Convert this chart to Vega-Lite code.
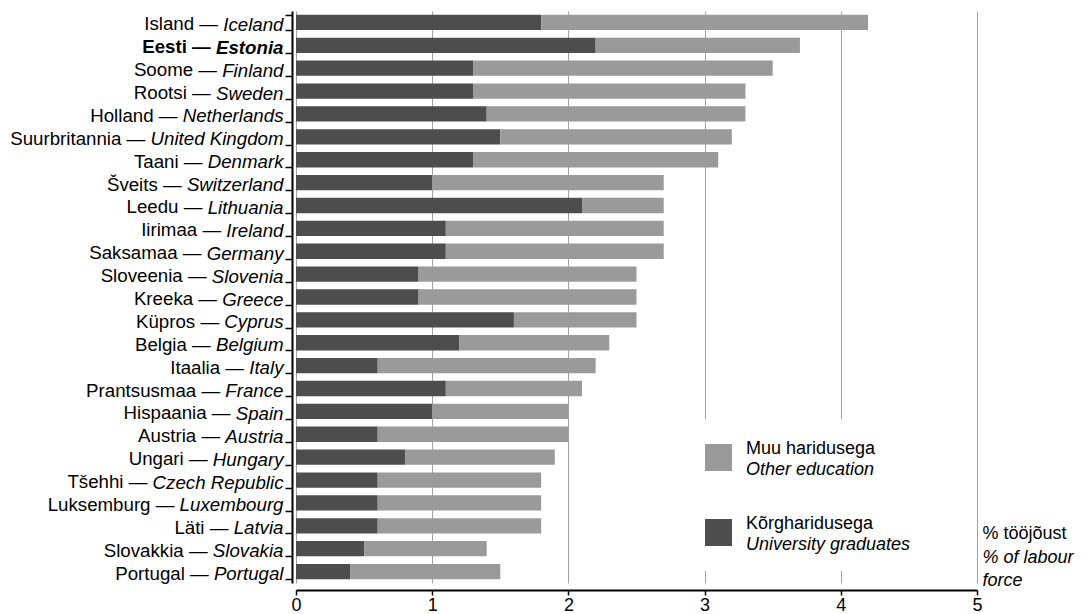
{
  "$schema": "https://vega.github.io/schema/vega-lite/v6.json",
  "width": 681,
  "height": 572,
  "autosize": {"type": "none"},
  "padding": {"left": 296, "top": 11, "right": 106, "bottom": 31},
  "background": "white",
  "config": {
    "view": {"stroke": null},
    "font": "Liberation Sans",
    "axis": {"labelFont": "Liberation Sans", "titleFont": "Liberation Sans", "labelColor": "black", "titleColor": "black"},
    "legend": {"labelFont": "Liberation Sans", "labelColor": "black"}
  },
  "data": {
    "values": [
      {"label": "Island — Iceland", "edu": "Kõrgharidusega", "edu_en": "University graduates", "value": 1.8},
      {"label": "Island — Iceland", "edu": "Muu haridusega", "edu_en": "Other education", "value": 2.4},
      {"label": "Eesti — Estonia", "edu": "Kõrgharidusega", "edu_en": "University graduates", "value": 2.2},
      {"label": "Eesti — Estonia", "edu": "Muu haridusega", "edu_en": "Other education", "value": 1.5},
      {"label": "Soome — Finland", "edu": "Kõrgharidusega", "edu_en": "University graduates", "value": 1.3},
      {"label": "Soome — Finland", "edu": "Muu haridusega", "edu_en": "Other education", "value": 2.2},
      {"label": "Rootsi — Sweden", "edu": "Kõrgharidusega", "edu_en": "University graduates", "value": 1.3},
      {"label": "Rootsi — Sweden", "edu": "Muu haridusega", "edu_en": "Other education", "value": 2.0},
      {"label": "Holland — Netherlands", "edu": "Kõrgharidusega", "edu_en": "University graduates", "value": 1.4},
      {"label": "Holland — Netherlands", "edu": "Muu haridusega", "edu_en": "Other education", "value": 1.9},
      {"label": "Suurbritannia — United Kingdom", "edu": "Kõrgharidusega", "edu_en": "University graduates", "value": 1.5},
      {"label": "Suurbritannia — United Kingdom", "edu": "Muu haridusega", "edu_en": "Other education", "value": 1.7},
      {"label": "Taani — Denmark", "edu": "Kõrgharidusega", "edu_en": "University graduates", "value": 1.3},
      {"label": "Taani — Denmark", "edu": "Muu haridusega", "edu_en": "Other education", "value": 1.8},
      {"label": "Šveits — Switzerland", "edu": "Kõrgharidusega", "edu_en": "University graduates", "value": 1.0},
      {"label": "Šveits — Switzerland", "edu": "Muu haridusega", "edu_en": "Other education", "value": 1.7},
      {"label": "Leedu — Lithuania", "edu": "Kõrgharidusega", "edu_en": "University graduates", "value": 2.1},
      {"label": "Leedu — Lithuania", "edu": "Muu haridusega", "edu_en": "Other education", "value": 0.6},
      {"label": "Iirimaa — Ireland", "edu": "Kõrgharidusega", "edu_en": "University graduates", "value": 1.1},
      {"label": "Iirimaa — Ireland", "edu": "Muu haridusega", "edu_en": "Other education", "value": 1.6},
      {"label": "Saksamaa — Germany", "edu": "Kõrgharidusega", "edu_en": "University graduates", "value": 1.1},
      {"label": "Saksamaa — Germany", "edu": "Muu haridusega", "edu_en": "Other education", "value": 1.6},
      {"label": "Sloveenia — Slovenia", "edu": "Kõrgharidusega", "edu_en": "University graduates", "value": 0.9},
      {"label": "Sloveenia — Slovenia", "edu": "Muu haridusega", "edu_en": "Other education", "value": 1.6},
      {"label": "Kreeka — Greece", "edu": "Kõrgharidusega", "edu_en": "University graduates", "value": 0.9},
      {"label": "Kreeka — Greece", "edu": "Muu haridusega", "edu_en": "Other education", "value": 1.6},
      {"label": "Küpros — Cyprus", "edu": "Kõrgharidusega", "edu_en": "University graduates", "value": 1.6},
      {"label": "Küpros — Cyprus", "edu": "Muu haridusega", "edu_en": "Other education", "value": 0.9},
      {"label": "Belgia — Belgium", "edu": "Kõrgharidusega", "edu_en": "University graduates", "value": 1.2},
      {"label": "Belgia — Belgium", "edu": "Muu haridusega", "edu_en": "Other education", "value": 1.1},
      {"label": "Itaalia — Italy", "edu": "Kõrgharidusega", "edu_en": "University graduates", "value": 0.6},
      {"label": "Itaalia — Italy", "edu": "Muu haridusega", "edu_en": "Other education", "value": 1.6},
      {"label": "Prantsusmaa — France", "edu": "Kõrgharidusega", "edu_en": "University graduates", "value": 1.1},
      {"label": "Prantsusmaa — France", "edu": "Muu haridusega", "edu_en": "Other education", "value": 1.0},
      {"label": "Hispaania — Spain", "edu": "Kõrgharidusega", "edu_en": "University graduates", "value": 1.0},
      {"label": "Hispaania — Spain", "edu": "Muu haridusega", "edu_en": "Other education", "value": 1.0},
      {"label": "Austria — Austria", "edu": "Kõrgharidusega", "edu_en": "University graduates", "value": 0.6},
      {"label": "Austria — Austria", "edu": "Muu haridusega", "edu_en": "Other education", "value": 1.4},
      {"label": "Ungari — Hungary", "edu": "Kõrgharidusega", "edu_en": "University graduates", "value": 0.8},
      {"label": "Ungari — Hungary", "edu": "Muu haridusega", "edu_en": "Other education", "value": 1.1},
      {"label": "Tšehhi — Czech Republic", "edu": "Kõrgharidusega", "edu_en": "University graduates", "value": 0.6},
      {"label": "Tšehhi — Czech Republic", "edu": "Muu haridusega", "edu_en": "Other education", "value": 1.2},
      {"label": "Luksemburg — Luxembourg", "edu": "Kõrgharidusega", "edu_en": "University graduates", "value": 0.6},
      {"label": "Luksemburg — Luxembourg", "edu": "Muu haridusega", "edu_en": "Other education", "value": 1.2},
      {"label": "Läti — Latvia", "edu": "Kõrgharidusega", "edu_en": "University graduates", "value": 0.6},
      {"label": "Läti — Latvia", "edu": "Muu haridusega", "edu_en": "Other education", "value": 1.2},
      {"label": "Slovakkia — Slovakia", "edu": "Kõrgharidusega", "edu_en": "University graduates", "value": 0.5},
      {"label": "Slovakkia — Slovakia", "edu": "Muu haridusega", "edu_en": "Other education", "value": 0.9},
      {"label": "Portugal — Portugal", "edu": "Kõrgharidusega", "edu_en": "University graduates", "value": 0.4},
      {"label": "Portugal — Portugal", "edu": "Muu haridusega", "edu_en": "Other education", "value": 1.1}
    ]
  },
  "layer": [
    {
      "mark": {"type": "bar"},
      "encoding": {
        "y": {
          "field": "label", "type": "nominal", "sort": null,
          "scale": {"paddingInner": 0.33, "paddingOuter": 0.165},
          "axis": {
            "orient": "left", "offset": 4, "title": null, "grid": false,
            "domain": true, "domainColor": "black", "domainWidth": 2,
            "ticks": true, "tickColor": "black", "tickSize": 7, "tickWidth": 1.5, "tickBand": "extent",
            "labelExpr": "split(datum.value, ' — ')[1]",
            "labelFontStyle": "italic", "labelFontSize": 18.7, "labelPadding": 2, "labelOffset": 2,
            "labelLimit": 0, "labelOverlap": false,
            "labelFontWeight": {"condition": {"test": "datum.value == 'Eesti — Estonia'", "value": "bold"}, "value": "normal"}
          }
        },
        "x": {
          "field": "value", "type": "quantitative", "stack": "zero",
          "scale": {"domain": [0, 5], "nice": false},
          "axis": {
            "orient": "bottom", "offset": 7, "values": [0, 1, 2, 3, 4, 5], "format": "d",
            "labelFlush": false, "labelFontSize": 18, "labelPadding": 1,
            "domain": true, "domainColor": "black", "domainWidth": 2,
            "ticks": true, "tickColor": "black", "tickSize": 5, "tickWidth": 1.5,
            "grid": true, "gridColor": "#a3a3a3", "gridWidth": 1,
            "title": "% tööjõust", "titleX": 686, "titleY": -52, "titleAlign": "left", "titleAnchor": "start",
            "titleBaseline": "alphabetic", "titleFontSize": 18, "titleFontWeight": "normal"
          }
        },
        "color": {
          "field": "edu", "type": "nominal",
          "scale": {"domain": ["Muu haridusega", "Kõrgharidusega"], "range": ["#9a9a9a", "#4d4d4d"]},
          "legend": {
            "orient": "none", "legendX": 384, "legendY": 408, "title": null,
            "symbolType": "square", "symbolSize": 729, "symbolStrokeWidth": 0, "symbolOpacity": 1,
            "labelFontSize": 18, "labelBaseline": "bottom", "labelOffset": 14, "labelLimit": 0,
            "rowPadding": 43, "padding": 25, "fillColor": "white"
          }
        },
        "order": {"field": "edu_en", "sort": "descending"}
      }
    },
    {
      "mark": {"type": "point", "opacity": 0},
      "encoding": {
        "y": {
          "field": "label", "type": "nominal", "sort": null,
          "axis": {
            "orient": "left", "offset": 4, "title": null, "grid": false, "domain": false,
            "ticks": true, "tickOpacity": 0, "tickSize": 7,
            "labelExpr": "split(datum.value, ' — ')[0] + ' —'",
            "labelFontSize": 18.7, "labelOffset": 2, "labelLimit": 0, "labelOverlap": false,
            "labelFontWeight": {"condition": {"test": "datum.value == 'Eesti — Estonia'", "value": "bold"}, "value": "normal"},
            "labelPadding": {
              "condition": [
                {"test": "datum.value == 'Island — Iceland'", "value": 67.5},
                {"test": "datum.value == 'Eesti — Estonia'", "value": 74.7},
                {"test": "datum.value == 'Soome — Finland'", "value": 68.5},
                {"test": "datum.value == 'Rootsi — Sweden'", "value": 74.8},
                {"test": "datum.value == 'Holland — Netherlands'", "value": 108},
                {"test": "datum.value == 'Suurbritannia — United Kingdom'", "value": 140.2},
                {"test": "datum.value == 'Taani — Denmark'", "value": 83},
                {"test": "datum.value == 'Šveits — Switzerland'", "value": 103.8},
                {"test": "datum.value == 'Leedu — Lithuania'", "value": 83.1},
                {"test": "datum.value == 'Iirimaa — Ireland'", "value": 64.4},
                {"test": "datum.value == 'Saksamaa — Germany'", "value": 84.1},
                {"test": "datum.value == 'Sloveenia — Slovenia'", "value": 78.9},
                {"test": "datum.value == 'Kreeka — Greece'", "value": 68.5},
                {"test": "datum.value == 'Küpros — Cyprus'", "value": 66.4},
                {"test": "datum.value == 'Belgia — Belgium'", "value": 74.7},
                {"test": "datum.value == 'Itaalia — Italy'", "value": 41.5},
                {"test": "datum.value == 'Prantsusmaa — France'", "value": 65.4},
                {"test": "datum.value == 'Hispaania — Spain'", "value": 55},
                {"test": "datum.value == 'Austria — Austria'", "value": 65.4},
                {"test": "datum.value == 'Ungari — Hungary'", "value": 77.9},
                {"test": "datum.value == 'Tšehhi — Czech Republic'", "value": 138.1},
                {"test": "datum.value == 'Luksemburg — Luxembourg'", "value": 111.1},
                {"test": "datum.value == 'Läti — Latvia'", "value": 57.1},
                {"test": "datum.value == 'Slovakkia — Slovakia'", "value": 77.9},
                {"test": "datum.value == 'Portugal — Portugal'", "value": 76.8}
              ],
              "value": 2
            }
          }
        },
        "x": {
          "field": "value", "type": "quantitative",
          "axis": {
            "orient": "bottom", "offset": 7, "domain": false, "ticks": false, "labels": false, "grid": false,
            "title": ["% of labour", "force"], "titleX": 686, "titleY": -27.5, "titleAlign": "left", "titleAnchor": "start",
            "titleBaseline": "alphabetic", "titleFontSize": 18, "titleFontWeight": "normal", "titleFontStyle": "italic",
            "titleLineHeight": 23
          }
        },
        "shape": {
          "field": "edu_en", "type": "nominal",
          "scale": {"domain": ["Other education", "University graduates"]},
          "legend": {
            "orient": "none", "legendX": 389, "legendY": 416, "title": null,
            "symbolType": "square", "symbolSize": 729, "symbolStrokeWidth": 0, "symbolOpacity": 0,
            "labelFontSize": 18, "labelFontStyle": "italic", "labelBaseline": "top", "labelOffset": 14, "labelLimit": 0,
            "rowPadding": 43, "padding": 20
          }
        }
      }
    }
  ],
  "resolve": {"axis": {"x": "independent", "y": "independent"}}
}
